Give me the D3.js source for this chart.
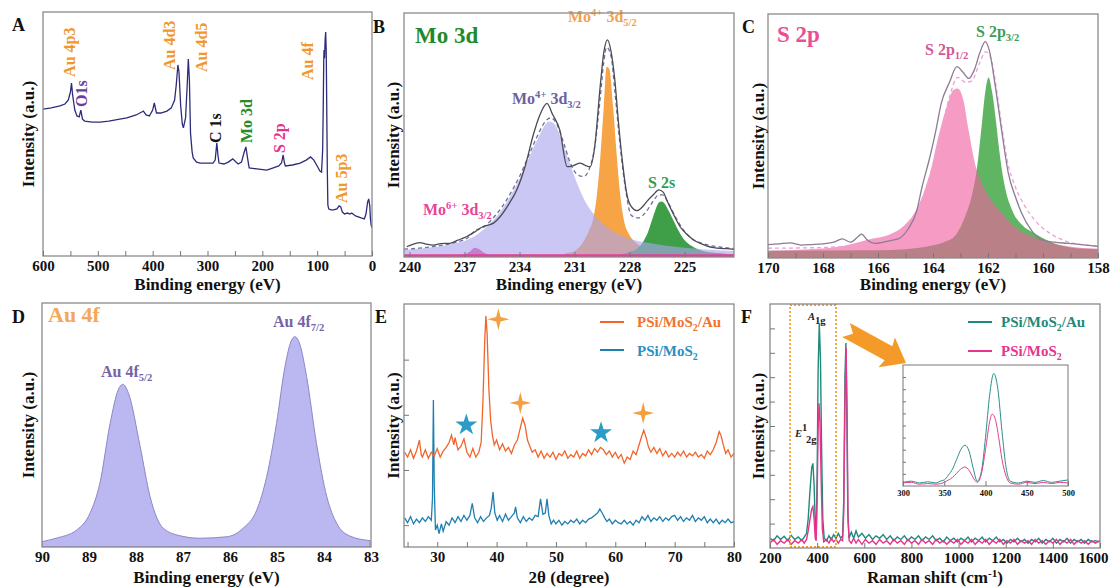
<!DOCTYPE html>
<html>
<head>
<meta charset="utf-8">
<script src="https://cdn.jsdelivr.net/npm/d3@7"></script>
<style>
  body { margin: 0; background: #fff; }
  svg text { font-family: "Liberation Serif", "Times New Roman", serif; font-weight: bold; }
</style>
</head>
<body>
<svg id="fig" width="1111" height="588"></svg>
<script>
// ---------- data ----------
// A: XPS survey, [binding energy eV, intensity a.u.]
const surveyScan = [[600,60.2],[585,60.7],[569,61.5],[560,62.3],[554,63.9],[550,67.2],[548,70.9],[546,66],[542,59.8],[538,57.4],[534,57],[531,59.8],[528,56.1],[524,55.3],[510,54.9],[496,54.9],[480,55.3],[460,56.1],[447,56.6],[430,57.8],[420,59],[417,59.4],[412,57.8],[406,57.4],[400,59.8],[397,62.7],[393,58.6],[385,58.6],[374,59.4],[366,60.7],[360,63.9],[357,70.1],[354,78.3],[352,75.4],[349,61.9],[346,54.1],[344,52.5],[340,56.6],[337,70.1],[335,80.7],[333,72.1],[331,50.4],[328,42.6],[326,40.2],[320,38.5],[313,38.1],[300,38.1],[290,38.1],[286,39.3],[283,46.3],[281,41.4],[279,38.1],[270,37.7],[262,38.5],[254,39.8],[248,38.5],[244,37.7],[238,38.5],[233,42.6],[230,44.7],[227,40.2],[224,36.1],[210,35.7],[192,35.2],[180,36.1],[170,36.9],[165,38.1],[162,41.4],[160,38.5],[158,36.9],[145,37.3],[131,38.1],[120,39.3],[112,40.6],[106,39.3],[100,36.9],[95,34.8],[92,34.4],[90,43.4],[89,59.8],[88,80.3],[87.5,84.4],[86.5,81.1],[85.5,88.5],[84.5,91.8],[83.5,84.4],[82.5,59.8],[81.5,35.2],[80.5,20.9],[79,19.3],[75,18.9],[70,18.9],[64,19.3],[60,20.5],[57,20.1],[54,18],[50,17.2],[45,17.6],[40,17.2],[37,17.6],[30,16.4],[20,15.6],[14,15.2],[11,17.2],[8,22.1],[6,23.4],[4,20.5],[3,15.6],[1.5,12.7],[0,11.5]];
const surveyTicks = [600, 500, 400, 300, 200, 100, 0];
const surveyMinor = d3.range(0, 601, 50);
// peak labels: energy / intensity where the upright text starts
const surveyPeaks = [
  { text: "Au 4p3", color: "#f0982e", e: 541.6, v: 73.4 },
  { text: "O1s", color: "#6a3d9c", e: 519.8, v: 61.1 },
  { text: "Au 4d3", color: "#f0982e", e: 359, v: 76.2 },
  { text: "Au 4d5", color: "#f0982e", e: 301, v: 75.4 },
  { text: "C 1s", color: "#111111", e: 275.4, v: 46.3 },
  { text: "Mo 3d", color: "#2a8a2a", e: 218.8, v: 46.3 },
  { text: "S 2p", color: "#e6338a", e: 158.6, v: 42.2 },
  { text: "Au 4f", color: "#f0982e", e: 107.6, v: 72.1 },
  { text: "Au 5p3", color: "#f0982e", e: 45.5, v: 21.7 }
];

// B: Mo 3d high resolution
const moRaw = [[240.15,4.2],[239.9,5],[239.43,5.9],[239.1,5.3],[238.7,4.9],[238.3,5.5],[237.8,5.6],[237.4,6.8],[236.9,8.3],[236.5,10],[236,12.4],[235.7,13.1],[235.4,14],[235.06,16.5],[234.6,21.5],[234.15,27.5],[233.7,37],[233.25,50],[232.9,58],[232.5,63],[232.2,58.5],[231.8,52],[231.4,37],[231.05,37.5],[230.7,38.5],[230.4,37.5],[230.15,37],[229.9,45],[229.6,69.8],[229.4,84],[229.2,89],[229,84],[228.8,72.5],[228.6,55],[228.4,40],[228.15,26],[227.9,20.6],[227.6,19],[227.3,20.5],[227.06,22.7],[226.7,25.5],[226.4,27.5],[226.15,26.5],[225.97,23.4],[225.6,17.5],[225.24,12.4],[224.9,9.5],[224.5,7],[224.1,5.5],[223.8,4.6],[223.4,3.8],[223.06,3.5],[222.7,3.4],[222.3,3.1]];
const moEnvelope = [[240.3,3.2],[239.5,3.6],[238.5,4.5],[237.5,6],[236.8,8],[236.4,11],[236,12],[235.5,15.5],[235,20],[234.5,26],[234,33],[233.5,41.5],[233,50],[232.6,55.5],[232.3,57],[232,55],[231.6,47],[231.2,38],[230.8,33.5],[230.5,33],[230.2,36],[229.9,45],[229.6,65],[229.4,80],[229.25,86],[229,82],[228.8,68],[228.5,45],[228.2,27],[227.9,17],[227.5,16],[227.1,18.5],[226.7,23],[226.4,25.5],[226.2,25.5],[225.9,22.5],[225.5,16.5],[225.1,11.5],[224.6,7.5],[224,5.5],[223,4],[222.3,3.5]];
const mo4p32 = [[240.3,3],[239.5,3.4],[238.5,4.2],[237.5,5.6],[237,6.6],[236.5,8.3],[236,11],[235.5,14.5],[235,19],[234.5,25],[234,32],[233.5,40.5],[233,48.5],[232.7,53],[232.4,55.5],[232.1,54.5],[231.8,50],[231.5,43.5],[231,33],[230.5,24],[230,18],[229.5,14],[229,11],[228.5,9],[228,7.5],[227,5.8],[226,4.6],[225,3.8],[224,3.2],[222.3,2.5]];
const mo4p52 = [[231.5,1.5],[231,2.5],[230.5,6.5],[230.2,11],[230,15],[229.8,24],[229.6,40],[229.4,62],[229.25,78],[229.1,77],[228.9,62],[228.7,42],[228.5,25],[228.3,15],[228,9],[227.6,5.5],[227,3.2],[226,2],[225,1.5],[222.3,1]];
const s2s = [[228.5,1],[228,2],[227.5,4],[227.2,7],[227,10],[226.8,14.5],[226.6,19],[226.4,22.3],[226.25,22.7],[226.1,22],[225.9,19.5],[225.6,15],[225.3,10.5],[225,7],[224.6,4.5],[224,2.5],[223,1.5],[222.3,1]];
const mo6p = [[240.3,0.8],[237.5,0.8],[237,1.2],[236.7,2.3],[236.45,3.8],[236.2,3.2],[235.9,1.6],[235.5,0.9],[222.3,0.8]];
const moTicks = [240, 237, 234, 231, 228, 225];

// C: S 2p high resolution
const sRaw = [[170,5.5],[169.6,5.8],[169.2,6.2],[168.8,5.3],[168.4,5.5],[168,5.8],[167.6,6.5],[167.3,7.8],[167,6.5],[166.75,8.5],[166.6,9.8],[166.4,7.5],[166.1,6],[165.8,6.5],[165.5,7.2],[165.2,8.2],[164.9,12],[164.6,19],[164.4,29],[164.1,42],[163.9,52],[163.7,63.4],[163.4,72],[163.13,78.4],[162.9,76],[162.7,73.6],[162.5,77],[162.3,84],[162.1,88.7],[161.95,85],[161.75,71.6],[161.5,52],[161.26,34.7],[161,25],[160.78,18.4],[160.4,11],[160.05,7.4],[159.6,6.5],[159.1,6],[158.6,5.5],[158,4.8]];
const sEnvelope = [[170,4],[168,4.3],[167,5],[166,6.5],[165.5,8.5],[165,12],[164.6,18],[164.3,27],[164,38],[163.7,52],[163.4,66],[163.1,74],[162.8,72],[162.6,72.5],[162.3,80],[162.1,84.5],[161.9,82],[161.7,70],[161.5,54],[161.3,40],[161,29],[160.7,22],[160.3,15.5],[159.8,10.5],[159.3,7.5],[158.6,5.5],[158,5]];
const s2p12 = [[170,3],[168.5,3.6],[167.5,4.5],[166.4,7.4],[165.5,10],[165.1,12.8],[164.6,20],[164.3,28],[164.05,37.4],[163.8,50],[163.5,62],[163.25,69],[163.1,69.5],[162.9,65],[162.7,52],[162.5,40],[162.2,30],[161.9,24],[161.5,18.4],[161,12.5],[160.65,10],[160,7],[159.1,4.8],[158,3.8]];
const s2p32 = [[170,3],[166,3.2],[165,3.6],[164.5,4.2],[164,5.2],[163.6,6.5],[163.2,9],[162.8,18],[162.6,25],[162.4,37],[162.25,52],[162.1,68],[161.98,74],[161.85,68],[161.7,55],[161.6,45],[161.4,30],[161.1,19],[160.8,14],[160.3,10],[159.8,7],[159.1,4.5],[158.5,3.8],[158,3.6]];
const sTicks = [170, 168, 166, 164, 162, 160, 158];
const sMinor = d3.range(158, 171, 1);

// D: Au 4f
const au4f = [[90,2.2],[89.7,3.6],[89.26,7],[88.98,13.8],[88.77,26],[88.55,50.7],[88.38,64.3],[88.28,66.7],[88.16,63],[87.91,41],[87.7,20.6],[87.42,7.7],[87.06,4.6],[86.64,3.6],[86.07,4.2],[85.72,7.7],[85.43,15.2],[85.22,28.8],[85.01,50.7],[84.83,74],[84.69,84.8],[84.62,86.2],[84.51,82.8],[84.37,69.8],[84.16,42.5],[83.94,20.6],[83.73,9.7],[83.45,4.5],[83.02,2.6]];
const auTicks = [90, 89, 88, 87, 86, 85, 84, 83];

// E: XRD, [2theta, intensity]
const xrdAu = [[24.5,39],[25,37],[25.5,40],[26,36.5],[26.5,39.5],[27,44],[27.3,38],[27.5,37],[28,40],[28.5,36.5],[29,39],[29.5,37.5],[30,40.5],[30.5,37],[31,39.5],[31.5,41],[32,43],[32.4,46],[32.8,42],[33,45],[33.5,40],[34,41.5],[34.5,44.5],[35,39],[35.5,37],[36,40.5],[36.5,37],[37,39],[37.4,43],[37.7,60],[38,85],[38.2,95],[38.4,88],[38.7,65],[39,52],[39.3,46],[39.6,42],[40,44],[40.5,40],[41,42.5],[41.5,39.5],[42,41],[42.5,38.5],[43,42],[43.5,44],[44,49],[44.4,53],[44.8,50],[45.2,44],[45.6,41.5],[46,39],[46.5,40],[47,37],[47.5,39.5],[48,36.5],[48.5,38.5],[49,37],[49.5,39],[50,36],[50.5,38.5],[51,37.5],[51.5,39.5],[52,36.5],[52.5,38],[53,37],[53.5,39.5],[54,36.5],[54.5,38.5],[55,37.5],[55.5,40],[56,38],[56.5,40.5],[57,39],[57.5,41],[58,40],[58.5,38],[59,39.5],[59.5,37],[60,39],[60.5,36.5],[61,38],[61.5,34.5],[62,37],[62.5,36],[63,39.5],[63.5,38],[64,42],[64.5,46],[64.8,48],[65.2,45],[65.6,41],[66,39],[66.5,41],[67,38.5],[67.5,40.5],[68,37.5],[68.5,39.5],[69,37],[69.5,38.5],[70,37],[70.5,39],[71,37.5],[71.5,39.5],[72,37],[72.5,38.5],[73,37.5],[73.5,39],[74,37],[74.5,38],[75,36.5],[75.5,39.5],[76,38],[76.5,40],[77,43],[77.5,47.5],[77.8,46],[78.2,42],[78.6,38.5],[79,40],[79.5,37],[80,38.5]];
const xrdBare = [[24.5,12],[25,10],[25.5,12.5],[26,9.5],[26.5,11.5],[27,10],[27.5,12],[28,10.5],[28.5,12.5],[29,11],[29.2,20],[29.35,60.5],[29.5,25],[29.7,7],[30,9],[30.3,5.5],[30.7,9.5],[31,6.5],[31.5,10.5],[32,9],[32.5,12],[33,10],[33.5,12.5],[34,10.5],[34.5,13],[35,11],[35.5,13],[35.9,18],[36.3,12],[36.8,10],[37.3,12.5],[37.8,10.5],[38.3,12],[38.8,13],[39.1,16],[39.4,22.6],[39.7,14],[40.1,11],[40.5,13],[41,10.5],[41.5,13.5],[42,11],[42.5,12.5],[43,14],[43.2,16.5],[43.5,12],[44,10],[44.5,12.5],[45,10.5],[45.5,12],[46,11],[46.5,13],[47,12.5],[47.4,19.8],[47.8,13.5],[48.2,14],[48.5,19.8],[48.8,13],[49.2,9.5],[49.6,11],[50,9.5],[50.5,11],[51,9],[51.5,10.5],[52,9.5],[52.5,11],[53,10],[53.5,11.5],[54,9.5],[54.5,11],[55,10],[55.5,11.5],[56,12],[56.5,13],[57,14],[57.4,15.6],[57.8,14],[58.2,12],[58.6,10.5],[59,11.5],[59.5,9.5],[60,11],[60.5,10],[61,9.5],[61.5,11],[62,9.5],[62.5,10.5],[63,9],[63.5,11],[64,10],[64.5,12.5],[65,11],[65.5,13],[66,10.5],[66.5,12],[67,11],[67.5,12.5],[68,10.5],[68.5,12],[69,11],[69.5,12.5],[70,13],[70.5,11],[71,12.5],[71.5,10.5],[72,12],[72.5,11],[73,13],[73.5,10.5],[74,12],[74.5,11],[75,12.5],[75.5,10],[76,11.5],[76.5,10],[77,11.5],[77.5,9.5],[78,11],[78.5,10],[79,11.5],[79.5,10],[80,10.5]];
const xrdTicks = [30, 40, 50, 60, 70, 80];
const xrdMinor = d3.range(25, 81, 5);
const xrdYTicks = [9, 31.7, 54.4, 77.1];
const mos2Stars = [[34.9, 50.2], [57.6, 47]];
const auStars = [[40.3, 93.7], [44.0, 59.3], [64.7, 55.1]];

// F: Raman, [shift cm-1, intensity]
const ramanAu = [[200,4],[215,3],[230,5],[245,3.5],[260,4.8],[275,3],[290,5.2],[305,3.5],[320,4.5],[335,3],[345,4.5],[355,6],[362,12],[370,24],[377,33],[382,34.7],[387,26],[392,10],[396,5],[400,30],[404,72],[409,92],[414,78],[419,40],[424,12],[430,4],[440,3],[450,5],[460,3.5],[470,5.5],[480,4],[490,6],[500,4],[508,5],[513,20],[518,70],[522,84],[526,55],[530,15],[535,4],[545,6.5],[555,4],[565,7],[575,4.5],[590,6],[605,4],[620,5.5],[635,3.5],[650,5],[665,4],[680,5.5],[695,3.5],[710,5],[725,3],[740,4.5],[755,3.5],[770,5],[785,3],[800,4.5],[815,3.5],[830,5],[845,3],[860,4.5],[875,3.5],[890,5],[905,3],[920,4],[935,2.5],[950,4.5],[965,3],[980,4],[995,2.5],[1010,4],[1025,3],[1040,4.5],[1055,2.5],[1070,4],[1085,3],[1100,4.5],[1115,2.5],[1130,4],[1145,3],[1160,4.5],[1175,2.5],[1190,3.5],[1205,2],[1220,3.5],[1235,2.5],[1250,4],[1265,2.5],[1280,3.5],[1295,2],[1310,3.5],[1325,2.5],[1340,4],[1355,2],[1370,3.5],[1385,2.5],[1400,4],[1415,2],[1430,3.5],[1445,2.5],[1460,4],[1475,2],[1490,3.5],[1505,2.5],[1520,3.5],[1535,2],[1550,3.5],[1565,2.5],[1580,3],[1600,2.5]];
const ramanBare = [[200,2],[215,3.5],[230,1.5],[245,3],[260,2],[275,3.5],[290,1.5],[305,3],[320,2],[335,3.5],[345,2],[355,3.5],[362,7],[370,12],[377,16],[382,17],[387,12],[392,4],[396,3],[400,20],[404,48],[408,59.3],[412,52],[417,28],[422,8],[428,2.5],[440,3.5],[450,2],[460,4],[470,2.5],[480,3.5],[490,2],[500,3.5],[508,3],[513,15],[518,60],[523,82],[527,55],[531,12],[536,3],[545,2],[555,4],[565,2],[575,3.5],[590,1.5],[605,3.5],[620,2],[635,3],[650,1.5],[665,3.5],[680,2],[695,3],[710,1.5],[725,3.5],[740,2],[755,3],[770,1.5],[785,3.5],[800,2],[815,3],[830,1.5],[845,3.5],[860,2],[875,3],[890,1.5],[905,3.5],[920,2],[935,3],[950,1.5],[965,3],[980,2],[995,3.5],[1010,1.5],[1025,3],[1040,2],[1055,3.5],[1070,1.5],[1085,3],[1100,2],[1115,3.5],[1130,1.5],[1145,3],[1160,2],[1175,3.5],[1190,1.5],[1205,3],[1220,2],[1235,3.5],[1250,1.5],[1265,3],[1280,2],[1295,3],[1310,1.5],[1325,3.5],[1340,2],[1355,3],[1370,1.5],[1385,3],[1400,2],[1415,3.5],[1430,1.5],[1445,3],[1460,2],[1475,3.5],[1490,1.5],[1505,3],[1520,2],[1535,3],[1550,1.5],[1565,3],[1580,2],[1600,3]];
const ramanTicks = [200, 400, 600, 800, 1000, 1200, 1400, 1600];
const ramanYTicks = d3.range(10, 100, 10);
const insetAu = [[300,3],[310,4],[320,2.5],[330,3.5],[340,2.5],[345,4],[350,5],[355,9],[360,14],[365,22],[370,30],[375,33.7],[380,29],[385,15],[390,4],[395,12],[400,40],[405,75],[410,93],[415,80],[420,45],[425,15],[430,4],[440,2.5],[450,4],[460,3],[470,4.5],[480,3],[490,4],[500,5]];
const insetBare = [[300,2.5],[310,3],[320,1.5],[330,2],[340,1.5],[350,3],[355,5],[360,7],[365,10.5],[370,14],[375,15.7],[380,13],[385,7],[390,3],[395,10],[400,30],[405,53],[408,59.4],[412,55],[416,40],[420,22],[425,8],[430,2.5],[440,1.5],[450,3],[460,2],[470,3],[480,2],[490,3],[500,2.5]];
const insetTicks = [300, 350, 400, 450, 500];

// ---------- drawing ----------
const svg = d3.select("#fig");
const defs = svg.append("defs");

function makePanel(id, xDomain, left, right, top, bottom) {
  const x = d3.scaleLinear().domain(xDomain).range([left, right]);
  const y = d3.scaleLinear().domain([0, 100]).range([bottom, top]);
  defs.append("clipPath").attr("id", "clip" + id)
    .append("rect").attr("x", left).attr("y", top).attr("width", right - left).attr("height", bottom - top);
  const g = svg.append("g");
  const plot = g.append("g").attr("clip-path", `url(#clip${id})`);
  return { id, x, y, g, plot, left, right, top, bottom };
}

function frame(p) {
  p.g.append("rect").attr("x", p.left).attr("y", p.top)
    .attr("width", p.right - p.left).attr("height", p.bottom - p.top)
    .attr("fill", "none").attr("stroke", "#8a8a8a").attr("stroke-width", 1.3);
}

function bottomAxis(p, labels, minor, size) {
  const a = p.g.append("g").attr("transform", `translate(0,${p.bottom})`)
    .call(d3.axisBottom(p.x).tickValues(labels).tickSize(0).tickPadding(4).tickFormat(d3.format("d")));
  a.select(".domain").remove();
  a.selectAll("text").attr("font-size", size || 15).attr("fill", "#111")
    .style("font-family", '"Liberation Serif","Times New Roman",serif').style("font-weight", "bold");
  if (minor) {
    const m = p.g.append("g").attr("transform", `translate(0,${p.bottom})`)
      .call(d3.axisBottom(p.x).tickValues(minor).tickSize(-5).tickFormat(""));
    m.select(".domain").remove();
    m.selectAll("line").attr("stroke", "#777");
  }
  return a;
}

function leftTicks(p, values, len) {
  const m = p.g.append("g").attr("transform", `translate(${p.left},0)`)
    .call(d3.axisLeft(p.y).tickValues(values).tickSize(-(len || 5)).tickFormat(""));
  m.select(".domain").remove();
  m.selectAll("line").attr("stroke", "#777");
}

function richText(g, px, py, parts, size, color, anchor) {
  const t = g.append("text").attr("x", px).attr("y", py).attr("font-size", size)
    .attr("fill", color).attr("text-anchor", anchor || "start");
  let shift = 0;
  parts.forEach(([s, kind]) => {
    const target = kind === "sup" ? -0.38 * size : kind === "sub" ? 0.25 * size : 0;
    t.append("tspan").attr("dy", target - shift).attr("font-size", kind ? size * 0.66 : size)
      .attr("font-style", kind === "it" ? "italic" : null).text(s);
    shift = target;
  });
  return t;
}

function titles(p, xTitleParts, baseline, yCenterX) {
  richText(p.g, (p.left + p.right) / 2, baseline, xTitleParts, 17, "#111", "middle");
  const yc = (p.top + p.bottom) / 2;
  p.g.append("text").attr("transform", `translate(${yCenterX},${yc}) rotate(-90)`)
    .attr("text-anchor", "middle").attr("font-size", 17).attr("fill", "#111").text("Intensity (a.u.)");
}

function letter(txt, px, py) {
  svg.append("text").attr("x", px).attr("y", py).attr("font-size", 18).attr("fill", "#111").text(txt);
}

const lineOf = (p, curve) => d3.line().x(d => p.x(d[0])).y(d => p.y(d[1])).curve(curve || d3.curveLinear);
const areaOf = (p, curve) => d3.area().x(d => p.x(d[0])).y0(p.y(0)).y1(d => p.y(d[1])).curve(curve || d3.curveLinear);

const bindingTitle = [["Binding energy (eV)", ""]];

// ----- A -----
const pA = makePanel("A", [600, 0], 43, 372, 12, 256);
pA.plot.append("path").datum(surveyScan).attr("d", lineOf(pA)).attr("fill", "none")
  .attr("stroke", "#2d2c7c").attr("stroke-width", 1.3);
surveyPeaks.forEach(d => {
  const px = pA.x(d.e), py = pA.y(d.v);
  pA.g.append("text").attr("transform", `translate(${px},${py}) rotate(-90)`)
    .attr("font-size", 16).attr("fill", d.color).text(d.text);
});
frame(pA);
bottomAxis(pA, surveyTicks, surveyMinor);
titles(pA, bindingTitle, 290, 34);
letter("A", 12, 31);

// ----- B -----
const pB = makePanel("B", [240.3, 222.3], 404, 734, 13, 257);
const smooth = d3.curveMonotoneX;
pB.plot.append("path").datum(mo4p52).attr("d", areaOf(pB, smooth)).attr("fill", "#f6a446");
pB.plot.append("path").datum(s2s).attr("d", areaOf(pB, smooth)).attr("fill", "#3f9f48");
pB.plot.append("path").datum(mo6p).attr("d", areaOf(pB, smooth)).attr("fill", "#ee3f9f");
pB.plot.append("path").datum(mo4p32).attr("d", areaOf(pB, smooth)).attr("fill", "#aaa4ef").attr("fill-opacity", 0.62);
pB.plot.append("path").datum([[240.3, 0.5], [222.3, 0.5]]).attr("d", lineOf(pB))
  .attr("stroke", "#e83f95").attr("stroke-width", 3);
pB.plot.append("path").datum(moEnvelope).attr("d", lineOf(pB, smooth)).attr("fill", "none")
  .attr("stroke", "#6f6f98").attr("stroke-width", 1.3).attr("stroke-dasharray", "4,3");
pB.plot.append("path").datum(moRaw).attr("d", lineOf(pB, smooth)).attr("fill", "none")
  .attr("stroke", "#4b4b55").attr("stroke-width", 1.3);
richText(pB.g, 415, 43, [["Mo 3d", ""]], 23, "#1f8a2a");
richText(pB.g, 568, 22, [["Mo", ""], ["4+", "sup"], [" 3d", ""], ["5/2", "sub"]], 16, "#f3a24e");
richText(pB.g, 512, 104, [["Mo", ""], ["4+", "sup"], [" 3d", ""], ["3/2", "sub"]], 16, "#6e5f9f");
richText(pB.g, 648, 188, [["S 2s", ""]], 16, "#2f9e50");
richText(pB.g, 423, 215, [["Mo", ""], ["6+", "sup"], [" 3d", ""], ["3/2", "sub"]], 16, "#e8459a");
frame(pB);
bottomAxis(pB, moTicks, moTicks);
titles(pB, bindingTitle, 290, 399);
letter("B", 373, 33);

// ----- C -----
const pC = makePanel("C", [170, 158], 768, 1098, 14, 258);
pC.plot.append("path").datum(s2p32).attr("d", areaOf(pC, smooth)).attr("fill", "#5fb562");
pC.plot.append("path").datum(s2p12).attr("d", areaOf(pC, smooth)).attr("fill", "#f0609f").attr("fill-opacity", 0.62);
pC.plot.append("path").datum(sEnvelope).attr("d", lineOf(pC, smooth)).attr("fill", "none")
  .attr("stroke", "#e7a3d6").attr("stroke-width", 1.3).attr("stroke-dasharray", "4,3");
pC.plot.append("path").datum(sRaw).attr("d", lineOf(pC, smooth)).attr("fill", "none")
  .attr("stroke", "#8e7b92").attr("stroke-width", 1.3);
richText(pC.g, 777, 42, [["S 2p", ""]], 23, "#ea4f95");
richText(pC.g, 925, 55, [["S 2p", ""], ["1/2", "sub"]], 16, "#d3589b");
richText(pC.g, 976, 37, [["S 2p", ""], ["3/2", "sub"]], 16, "#3a9e5a");
frame(pC);
bottomAxis(pC, sTicks, sMinor);
titles(pC, bindingTitle, 290, 764);
letter("C", 742, 33);

// ----- D -----
const pD = makePanel("D", [90, 83], 42, 371, 303, 547);
pD.plot.append("path").datum(au4f).attr("d", areaOf(pD, smooth)).attr("fill", "#bbb7f0")
  .attr("stroke", "#8c87c6").attr("stroke-width", 1);
richText(pD.g, 48, 322, [["Au 4f", ""]], 22, "#f4a65a");
richText(pD.g, 101, 377, [["Au 4f", ""], ["5/2", "sub"]], 16, "#7463a6");
richText(pD.g, 273, 327, [["Au 4f", ""], ["7/2", "sub"]], 16, "#7463a6");
frame(pD);
bottomAxis(pD, auTicks);
titles(pD, bindingTitle, 583, 34);
letter("D", 12, 323);

// ----- E -----
const pE = makePanel("E", [24.4, 80], 404, 734, 304, 547);
pE.plot.append("path").datum(xrdBare).attr("d", lineOf(pE)).attr("fill", "none")
  .attr("stroke", "#1f7fb0").attr("stroke-width", 1.3);
pE.plot.append("path").datum(xrdAu).attr("d", lineOf(pE)).attr("fill", "none")
  .attr("stroke", "#f1652a").attr("stroke-width", 1.3);
const starPath = d3.symbol(d3.symbolStar).size(150)();
pE.g.selectAll(".bstar").data(mos2Stars).join("path")
  .attr("d", starPath).attr("fill", "#2c9cc6")
  .attr("transform", d => `translate(${pE.x(d[0])},${pE.y(d[1])})`);
function sparkle(r) {
  const w = r * 0.2, p = d3.path();
  p.moveTo(0, -r); p.lineTo(w, -w); p.lineTo(r, 0); p.lineTo(w, w);
  p.lineTo(0, r); p.lineTo(-w, w); p.lineTo(-r, 0); p.lineTo(-w, -w); p.closePath();
  return p.toString();
}
pE.g.selectAll(".ostar").data(auStars).join("path")
  .attr("d", sparkle(11)).attr("fill", "#f4a041")
  .attr("transform", d => `translate(${pE.x(d[0])},${pE.y(d[1])})`);
pE.g.append("line").attr("x1", 600).attr("x2", 624).attr("y1", 322).attr("y2", 322).attr("stroke", "#f1652a").attr("stroke-width", 2);
richText(pE.g, 637, 327, [["PSi/MoS", ""], ["2", "sub"], ["/Au", ""]], 15, "#f0732e");
pE.g.append("line").attr("x1", 600).attr("x2", 624).attr("y1", 350).attr("y2", 350).attr("stroke", "#1f7fb0").attr("stroke-width", 2);
richText(pE.g, 637, 356, [["PSi/MoS", ""], ["2", "sub"]], 15, "#2a8fc2");
frame(pE);
bottomAxis(pE, xrdTicks, xrdMinor);
leftTicks(pE, xrdYTicks);
titles(pE, [["2θ (degree)", ""]], 583, 399);
letter("E", 375, 323);

// ----- F -----
const pF = makePanel("F", [200, 1600], 770, 1100, 304, 548);
pF.plot.append("path").datum(ramanAu).attr("d", lineOf(pF)).attr("fill", "none")
  .attr("stroke", "#1d8a7c").attr("stroke-width", 1.4);
pF.plot.append("path").datum(ramanBare).attr("d", lineOf(pF)).attr("fill", "none")
  .attr("stroke", "#e8348c").attr("stroke-width", 1.4);
// dotted zoom box
pF.g.append("rect").attr("x", pF.x(285)).attr("y", pF.top + 1)
  .attr("width", pF.x(480) - pF.x(285)).attr("height", pF.bottom - pF.top - 2)
  .attr("fill", "none").attr("stroke", "#f0a030").attr("stroke-width", 1.8).attr("stroke-dasharray", "2,2");
// block arrow toward the inset
(function () {
  const x0 = 846, y0 = 330, x1 = 906, y1 = 363;
  const ang = Math.atan2(y1 - y0, x1 - x0) * 180 / Math.PI;
  const L = Math.hypot(x1 - x0, y1 - y0);
  const p = d3.path();
  p.moveTo(0, -8); p.lineTo(L - 20, -8); p.lineTo(L - 22, -17); p.lineTo(L, 0);
  p.lineTo(L - 22, 17); p.lineTo(L - 20, 8); p.lineTo(0, 8); p.lineTo(8, 0); p.closePath();
  pF.g.append("path").attr("d", p.toString()).attr("fill", "#f39a28")
    .attr("transform", `translate(${x0},${y0}) rotate(${ang})`);
})();
richText(pF.g, 808, 320, [["A", "it"], ["1g", "sub"]], 16, "#222");
richText(pF.g, 795, 437, [["E", "it"], ["1", "sup"]], 16, "#222");
pF.g.append("text").attr("x", 806).attr("y", 443).attr("font-size", 10.5).attr("fill", "#222").text("2g");
pF.g.append("line").attr("x1", 968).attr("x2", 992).attr("y1", 322).attr("y2", 322).attr("stroke", "#1d8a7c").attr("stroke-width", 2);
richText(pF.g, 1001, 327, [["PSi/MoS", ""], ["2", "sub"], ["/Au", ""]], 15, "#1f8a7c");
pF.g.append("line").attr("x1", 968).attr("x2", 992).attr("y1", 351).attr("y2", 351).attr("stroke", "#e8348c").attr("stroke-width", 2);
richText(pF.g, 1001, 356, [["PSi/MoS", ""], ["2", "sub"]], 15, "#e8348c");
frame(pF);
const fAxis = bottomAxis(pF, ramanTicks, ramanTicks);
fAxis.selectAll("text").filter(d => d === 1600).attr("text-anchor", "end").attr("dx", 8);
leftTicks(pF, ramanYTicks);
titles(pF, [["Raman shift (cm", ""], ["-1", "sup"], [")", ""]], 583, 764);
letter("F", 741, 323);

// inset
const pI = makePanel("I", [300, 500], 903, 1068, 365, 486);
pI.g.insert("rect", ":first-child").attr("x", 903).attr("y", 365).attr("width", 165).attr("height", 121).attr("fill", "#fff");
pI.plot.append("path").datum(insetAu).attr("d", lineOf(pI, smooth)).attr("fill", "none")
  .attr("stroke", "#2a8f8a").attr("stroke-width", 1);
pI.plot.append("path").datum(insetBare).attr("d", lineOf(pI, smooth)).attr("fill", "none")
  .attr("stroke", "#e0408f").attr("stroke-width", 1);
pI.g.append("rect").attr("x", 903).attr("y", 365).attr("width", 165).attr("height", 121)
  .attr("fill", "none").attr("stroke", "#777").attr("stroke-width", 1);
bottomAxis(pI, insetTicks, insetTicks, 8.5);
leftTicks(pI, ramanYTicks, 3);
</script>
</body>
</html>
